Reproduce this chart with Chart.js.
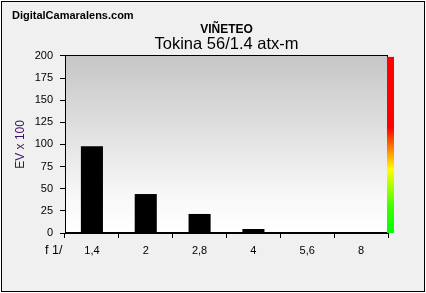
<!DOCTYPE html>
<html>
<head>
<meta charset="utf-8">
<script src="https://cdn.jsdelivr.net/npm/chart.js@4/dist/chart.umd.min.js"></script>
<style>
  html, body { margin: 0; padding: 0; background: #ffffff; }
  #wrap { width: 426px; height: 293px; position: relative; }
</style>
</head>
<body>
<div id="wrap"><canvas id="c" width="426" height="293"></canvas></div>
<script>
// ---- data ----
const categories = ['1,4', '2', '2,8', '4', '5,6', '8'];
const vignetting = [98, 44, 21.5, 4.5, 0, 0];
const yTicks = [0, 25, 50, 75, 100, 125, 150, 175, 200];
const siteName = 'DigitalCamaralens.com';
const titleText = 'VIÑETEO';
const subtitleText = 'Tokina 56/1.4 atx-m';
const yAxisLabel = 'EV x 100';
const xAxisLabel = 'f 1/';

const FONT = 'Arial, "Liberation Sans", sans-serif';

const decor = {
  id: 'decor',
  beforeDraw(chart) {
    const ctx = chart.ctx;
    const a = chart.chartArea;
    ctx.save();
    ctx.fillStyle = '#ffffff';
    ctx.fillRect(0, 0, chart.width, chart.height);
    ctx.fillStyle = '#f0f0f0';
    ctx.fillRect(1, 1, chart.width - 2, chart.height - 2);
    ctx.strokeStyle = '#000000';
    ctx.lineWidth = 1;
    ctx.strokeRect(1.5, 1.5, chart.width - 3, chart.height - 3);
    // plot area gradient
    const g = ctx.createLinearGradient(0, a.top, 0, a.bottom);
    g.addColorStop(0, '#c6c6c6');
    g.addColorStop(0.45, '#e2e2e2');
    g.addColorStop(0.8, '#f8f8f8');
    g.addColorStop(1, '#ffffff');
    ctx.fillStyle = g;
    ctx.fillRect(a.left, a.top, a.right - a.left, a.bottom - a.top);
    ctx.restore();
  },
  afterDraw(chart) {
    const ctx = chart.ctx;
    const a = chart.chartArea;
    ctx.save();
    ctx.strokeStyle = '#000000';
    ctx.lineWidth = 1;
    ctx.strokeRect(Math.round(a.left) + 0.5, Math.round(a.top) - 0.5, Math.round(a.right - a.left) - 1, Math.round(a.bottom - a.top));
    // colour scale bar
    const top = a.top + 1, bot = a.bottom;
    const g = ctx.createLinearGradient(0, top, 0, bot);
    g.addColorStop(0, '#ff0000');
    g.addColorStop(0.40, '#ff0000');
    g.addColorStop(0.52, '#ff8000');
    g.addColorStop(0.64, '#ffff00');
    g.addColorStop(0.85, '#40ff00');
    g.addColorStop(1, '#00ff00');
    ctx.fillStyle = g;
    ctx.fillRect(a.right - 1, top, 7, bot - top);
    // texts
    ctx.fillStyle = '#000000';
    ctx.font = 'bold 11px ' + FONT;
    ctx.textBaseline = 'middle';
    ctx.textAlign = 'left';
    ctx.fillText(siteName, 12, 16);
    ctx.font = '12.5px ' + FONT;
    ctx.fillText(xAxisLabel, 45, 251);
    ctx.restore();
  }
};

new Chart(document.getElementById('c'), {
  type: 'bar',
  data: {
    labels: categories,
    datasets: [{
      data: vignetting,
      backgroundColor: '#000000',
      borderWidth: 0,
      barPercentage: 0.41,
      categoryPercentage: 1.0
    }]
  },
  options: {
    responsive: false,
    animation: false,
    devicePixelRatio: 1,
    layout: { padding: { left: 5, right: 38, top: 15, bottom: 30 } },
    plugins: {
      legend: { display: false },
      tooltip: { enabled: false },
      title: {
        display: true, text: titleText, color: '#000000', fullSize: false,
        font: { family: FONT, size: 12, weight: 'bold', lineHeight: 1.2 },
        padding: { top: 7, bottom: 0 }
      },
      subtitle: {
        display: true, text: subtitleText, color: '#000000', fullSize: false,
        font: { family: FONT, size: 16.5, weight: 'normal', lineHeight: 1.0 },
        padding: { top: 0, bottom: 3 }
      }
    },
    scales: {
      x: {
        offset: true,
        grid: { display: true, offset: true, drawOnChartArea: false, drawTicks: true, tickLength: 5, color: '#000000' },
        border: { display: true, color: '#000000', width: 1 },
        ticks: { color: '#000000', font: { family: FONT, size: 11 }, padding: 6, maxRotation: 0 },
        afterFit(s) { s.height = 30; }
      },
      y: {
        min: 0, max: 200,
        afterBuildTicks(s) { s.ticks = yTicks.map(v => ({ value: v })); },
        grid: { display: true, drawOnChartArea: false, drawTicks: true, tickLength: 5, color: '#000000' },
        border: { display: true, color: '#000000', width: 1 },
        ticks: { color: '#000000', font: { family: FONT, size: 11 }, padding: 7 },
        title: {
          display: true, text: yAxisLabel, color: '#3a1060',
          font: { family: FONT, size: 12 }, padding: { top: 8, bottom: 0 }
        },
        afterFit(s) { s.width = 60; }
      }
    }
  },
  plugins: [decor]
});
</script>
</body>
</html>
